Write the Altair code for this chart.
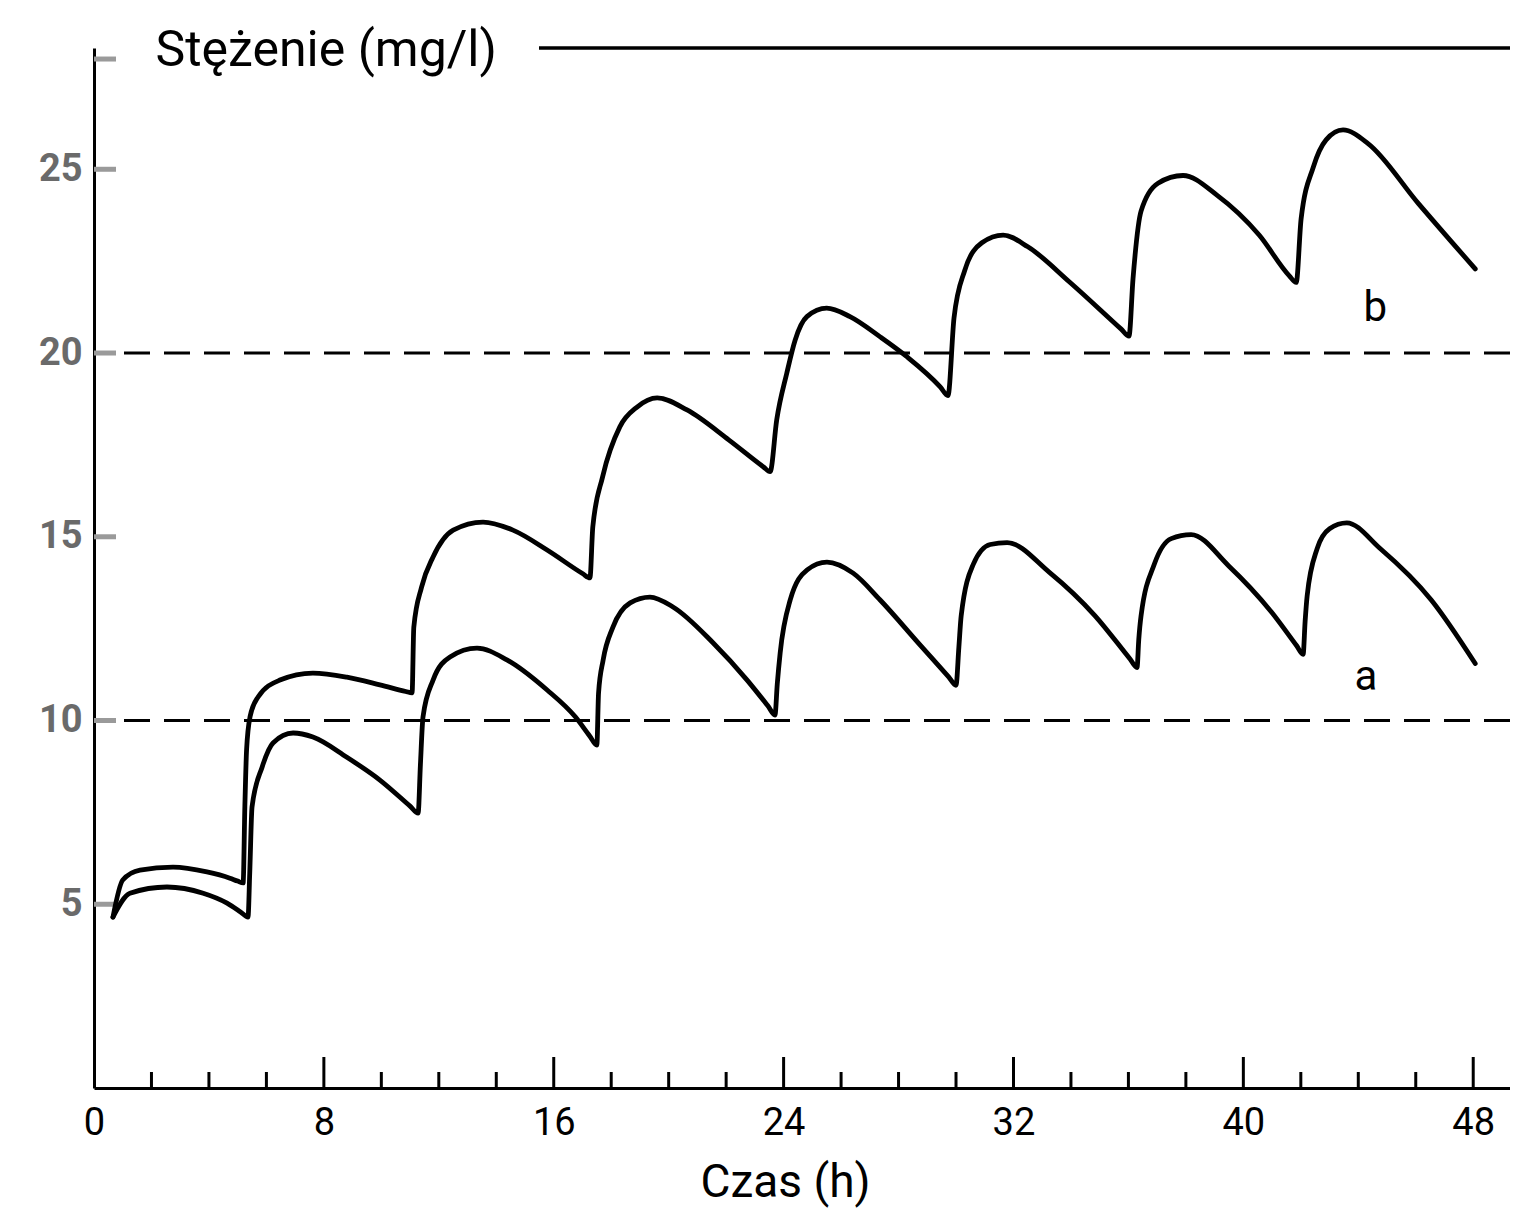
import altair as alt
import pandas as pd

# ---- data ----
# curve a: time (h) and concentration (mg/l)
a_t = [0.66, 1.25, 2.54, 3.8, 4.63, 5.1, 5.36,
       5.42, 5.5, 5.85, 6.23, 6.93, 7.62, 8.8, 9.95, 11.0, 11.28,
       11.36, 11.45, 11.8, 12.39, 13.33, 14.37, 15.77, 16.75, 17.25, 17.5,
       17.56, 17.72, 18.06, 18.66, 19.35, 20.15, 21.55, 22.73, 23.45, 23.7,
       23.78, 23.88, 24.23, 24.82, 25.51, 26.42, 27.36, 28.7, 29.75, 30.0,
       30.1, 30.18, 30.6, 31.19, 31.78, 33.24, 34.84, 36.05, 36.3,
       36.36, 36.44, 36.9, 37.49, 38.18, 39.5, 40.97, 41.85, 42.08,
       42.15, 42.22, 42.57, 43.0, 43.6, 44.76, 46.54, 48.07]
a_c = [4.65, 5.3, 5.47, 5.3, 5.03, 4.79, 4.65,
       5.85, 7.65, 8.73, 9.39, 9.66, 9.55, 9.0, 8.38, 7.67, 7.48,
       8.8, 10.1, 11.1, 11.73, 11.97, 11.65, 10.83, 10.1, 9.58, 9.33,
       10.75, 11.65, 12.54, 13.2, 13.36, 13.09, 12.11, 11.1, 10.4, 10.15,
       11.0, 11.84, 13.28, 14.1, 14.31, 14.01, 13.28, 12.1, 11.18, 10.96,
       12.0, 12.85, 14.25, 14.79, 14.84, 14.04, 12.85, 11.68, 11.44,
       12.2, 12.85, 14.25, 14.95, 15.06, 14.2, 12.96, 12.04, 11.8,
       12.7, 13.39, 14.68, 15.22, 15.38, 14.68, 13.28, 11.55]

# curve b
b_t = [0.66, 1.0, 1.6, 2.75, 3.93, 4.73, 5.0, 5.19,
       5.25, 5.31, 5.43, 5.71, 6.47, 7.62, 8.8, 9.95, 10.85, 11.07,
       11.13, 11.4, 11.8, 12.5, 13.54, 14.58, 15.77, 17.0, 17.26,
       17.36, 17.7, 18.3, 18.9, 19.6, 20.64, 22.1, 23.3, 23.53,
       23.76, 24.11, 24.4, 24.81, 25.5, 26.31, 27.36, 28.29, 29.45, 29.72,
       29.93, 30.3, 30.9, 31.64, 32.5, 33.97, 35.75, 36.02,
       36.16, 36.44, 37.03, 37.9, 39.09, 40.55, 41.6, 41.84,
       42.01, 42.43, 42.88, 43.47, 44.34, 46.08, 48.07]
b_c = [4.65, 5.66, 5.93, 6.01, 5.88, 5.71, 5.63, 5.58,
       7.65, 9.2, 10.1, 10.64, 11.1, 11.29, 11.18, 10.97, 10.79, 10.75,
       12.54, 13.63, 14.45, 15.18, 15.4, 15.18, 14.64, 14.0, 13.88,
       15.27, 16.63, 17.99, 18.53, 18.78, 18.45, 17.63, 16.9, 16.77,
       18.18, 19.45, 20.35, 20.99, 21.22, 20.99, 20.44, 19.9, 19.08, 18.84,
       20.95, 22.24, 23.0, 23.21, 22.89, 21.92, 20.65, 20.46,
       22.02, 23.86, 24.62, 24.83, 24.29, 23.21, 22.1, 21.92,
       23.65, 25.05, 25.8, 26.07, 25.7, 24.08, 22.29]

ref_levels = [10, 20]
x_labels = [0, 8, 16, 24, 32, 40, 48]
x_minor = [2, 4, 6, 10, 12, 14, 18, 20, 22, 26, 28, 30, 34, 36, 38, 42, 44, 46]
x_major = [8, 16, 24, 32, 40, 48]
y_labels = [5, 10, 15, 20, 25]
y_marks = [5, 10, 15, 20, 25, 28]
series_names = ["a", "b"]
label_t = [44.27, 44.59]
label_c = [11.18, 21.22]

# ---- build tables ----
curves = pd.concat([
    pd.DataFrame({"t": a_t, "c": a_c, "seria": "a"}),
    pd.DataFrame({"t": b_t, "c": b_c, "seria": "b"}),
])
labels = pd.DataFrame({"t": label_t, "c": label_c, "name": series_names})
refs = pd.DataFrame({"c": ref_levels})
ymarks = pd.DataFrame({"c": y_marks})
xminor = pd.DataFrame({"t": x_minor})
xmajor = pd.DataFrame({"t": x_major})

W, H = 1416, 1040
FONT = "Roboto"

xscale = alt.Scale(domain=[0, 49.28], nice=False, zero=False)
yscale = alt.Scale(domain=[0, 28.3], nice=False, zero=False)

xaxis = alt.Axis(values=x_labels, title="Czas (h)", ticks=False, tickSize=0,
                 grid=False, domainColor="black", domainWidth=3,
                 labelFont=FONT, labelFontSize=38, labelColor="black",
                 labelPadding=16, labelFlush=False, format="d",
                 titleFont=FONT, titleFontSize=46, titleFontWeight="normal",
                 titleColor="black", titleX=691, titleY=108,
                 titleBaseline="alphabetic", titleAlign="center")
yaxis = alt.Axis(values=y_labels, title="Stężenie (mg/l)", titleAngle=0,
                 titleAlign="left", titleX=61, titleY=2, titleBaseline="middle",
                 titleFont=FONT, titleFontSize=50, titleFontWeight="normal",
                 titleColor="black",
                 ticks=False, tickSize=0, grid=False, domainColor="black",
                 domainWidth=3, labelFont=FONT, labelFontSize=38,
                 labelColor="#6a6a6a", labelFontWeight="bold", labelPadding=12,
                 labelFlush=False, format="d")


def X(field):
    return alt.X(field, type="quantitative", scale=xscale, axis=xaxis)


def Y(field):
    return alt.Y(field, type="quantitative", scale=yscale, axis=yaxis)


dashed = alt.Chart(refs).mark_rule(
    strokeDash=[26, 14], strokeWidth=3, color="black"
).encode(y=Y("c"))

yticks = alt.Chart(ymarks).mark_rule(color="#9a9a9a", strokeWidth=5).encode(
    y=Y("c"), x=alt.value(0), x2=alt.value(22)
)

minor_ticks = alt.Chart(xminor).mark_rule(color="black", strokeWidth=3).encode(
    x=X("t"), y=alt.value(H), y2=alt.value(H - 16)
)
major_ticks = alt.Chart(xmajor).mark_rule(color="black", strokeWidth=3).encode(
    x=X("t"), y=alt.value(H), y2=alt.value(H - 31)
)

top_line = alt.Chart(refs).mark_rule(color="black", strokeWidth=3).encode(
    x=alt.value(445), x2=alt.value(W), y=alt.value(0)
)

lines = alt.Chart(curves).mark_line(
    interpolate="monotone", strokeWidth=4.8, color="black",
    strokeCap="round", strokeJoin="round"
).encode(x=X("t"), y=Y("c"), detail="seria:N")

texts = alt.Chart(labels).mark_text(
    font=FONT, fontSize=42, color="black", align="center", baseline="middle"
).encode(x=X("t"), y=Y("c"), text="name:N")

chart = alt.layer(
    dashed, yticks, minor_ticks, major_ticks, top_line, lines, texts
).properties(
    width=W, height=H,
    padding={"left": 86, "top": 40, "right": 0, "bottom": 122},
    autosize=alt.AutoSizeParams(type="none"),
    background="white",
).configure_view(stroke=None)

chart.save("out.html", embed_options={"renderer": "svg", "actions": False})
